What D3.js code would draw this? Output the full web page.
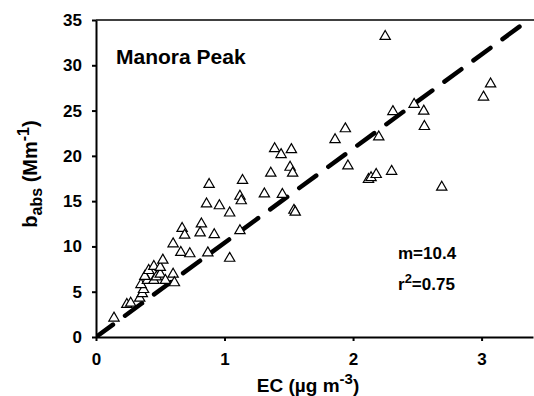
<!DOCTYPE html>
<html>
<head>
<meta charset="utf-8">
<script src="https://cdn.jsdelivr.net/npm/d3@7"></script>
<style>
  body { margin: 0; background: #fff; }
  svg { font-family: "Liberation Sans", Arial, sans-serif; font-weight: bold; }
</style>
</head>
<body>
<svg id="chart" width="534" height="396"></svg>
<script>
// EC (ug m-3) and b_abs (Mm-1)
const ecValues = [
  0.14, 0.24, 0.27, 0.34, 0.36, 0.37, 0.35, 0.40, 0.38, 0.41,
  0.45, 0.45, 0.47, 0.50, 0.50, 0.52, 0.54, 0.60, 0.61, 0.60,
  0.66, 0.73, 0.87, 0.67, 0.69, 0.82, 0.81, 0.92, 0.88, 0.86,
  0.96, 1.04, 1.04, 1.12, 1.14, 1.12, 1.13, 1.31, 1.45, 1.54,
  1.55, 1.39, 1.44, 1.52, 1.36, 1.51, 1.53, 1.86, 1.94, 1.96,
  2.12, 2.14, 2.18, 2.20, 2.30, 2.25, 2.31, 2.475, 2.55, 2.555,
  2.69, 3.015, 3.07
];
const babsValues = [
  2.2, 3.7, 3.85, 4.4, 4.9, 5.35, 5.9, 6.35, 6.8, 7.45,
  7.9, 6.35, 6.75, 7.05, 7.8, 8.6, 6.35, 7.05, 6.1, 10.4,
  9.45, 9.3, 9.4, 12.1, 11.35, 12.6, 11.6, 11.4, 16.95, 14.8,
  14.6, 13.8, 8.8, 11.85, 17.4, 15.65, 15.15, 15.9, 15.85, 14.1,
  13.9, 20.9, 20.25, 20.8, 18.2, 18.85, 18.2, 21.9, 23.1, 19.0,
  17.5, 17.7, 18.05, 22.2, 18.4, 33.3, 25.0, 25.8, 25.05, 23.35,
  16.65, 26.6, 28.05
];
const xTicks = [0, 1, 2, 3];
const yTicks = [0, 5, 10, 15, 20, 25, 30, 35];
const slope = 10.4;
const fitLabels = ["m=10.4", "0.75"];

const svg = d3.select("#chart");
const margin = { top: 20, left: 96 };
const width = 437, height = 317;

const x = d3.scaleLinear().domain([0, 3.4]).range([0, width]);
const y = d3.scaleLinear().domain([0, 35]).range([height, 0]);

const g = svg.append("g")
  .attr("transform", "translate(" + margin.left + "," + margin.top + ")");

g.append("clipPath").attr("id", "clip")
  .append("rect").attr("width", width + 2).attr("height", height);

// top frame line
g.append("line")
  .attr("x1", 0).attr("x2", width + 2)
  .attr("y1", 0).attr("y2", 0)
  .attr("stroke", "#000").attr("stroke-width", 1.5);

// regression line
const xEnd = 35 / slope;
g.append("line")
  .attr("clip-path", "url(#clip)")
  .attr("x1", x(0)).attr("y1", y(0))
  .attr("x2", x(xEnd)).attr("y2", y(slope * xEnd))
  .attr("stroke", "#000").attr("stroke-width", 4.5)
  .attr("stroke-linecap", "round")
  .attr("stroke-dasharray", "21,15");

// points
const pts = ecValues.map((d, i) => ({ ec: d, babs: babsValues[i] }));
g.selectAll(".pt")
  .data(pts)
  .enter().append("path")
  .attr("class", "pt")
  .attr("d", d3.symbol().type(d3.symbolTriangle).size(46))
  .attr("transform", d => "translate(" + x(d.ec) + "," + (y(d.babs) + 1) + ")")
  .attr("fill", "#fff").attr("stroke", "#000").attr("stroke-width", 1.2);

// axes
const xAxis = g.append("g")
  .attr("transform", "translate(0," + height + ")")
  .call(d3.axisBottom(x).tickValues(xTicks).tickSize(4).tickSizeOuter(0).tickPadding(12).tickFormat(d3.format("d")));
const yAxis = g.append("g")
  .call(d3.axisLeft(y).tickValues(yTicks).tickSize(4).tickSizeOuter(0).tickPadding(10).tickFormat(d3.format("d")));

[xAxis, yAxis].forEach(a => {
  a.select(".domain").attr("stroke-width", 2);
  a.selectAll(".tick line").attr("stroke-width", 2);
  a.selectAll("text")
    .attr("font-family", "Liberation Sans, Arial, sans-serif")
    .attr("font-weight", "bold")
    .attr("font-size", 17)
    .attr("fill", "#000");
});

// site label
svg.append("text")
  .attr("x", 116).attr("y", 64)
  .attr("font-size", 21)
  .text("Manora Peak");

// fit annotation
svg.append("text")
  .attr("x", 398).attr("y", 259)
  .attr("font-size", 17)
  .text(fitLabels[0]);
const r2 = svg.append("text")
  .attr("x", 398).attr("y", 290)
  .attr("font-size", 17);
r2.append("tspan").text("r");
r2.append("tspan").attr("dy", -7).attr("font-size", 13).text("2");
r2.append("tspan").attr("dy", 7).text("=" + fitLabels[1]);

// x title
const xt = svg.append("text")
  .attr("x", 308).attr("y", 392)
  .attr("text-anchor", "middle")
  .attr("font-size", 19);
xt.append("tspan").text("EC (\u00b5g m");
xt.append("tspan").attr("dy", -8).attr("font-size", 15).text("-3");
xt.append("tspan").attr("dy", 8).text(")");

// y title
const yt = svg.append("text")
  .attr("transform", "translate(37,174) rotate(-90)")
  .attr("text-anchor", "middle")
  .attr("font-size", 20);
yt.append("tspan").text("b");
yt.append("tspan").attr("dy", 5).attr("font-size", 16).text("abs");
yt.append("tspan").attr("dy", -5).text(" (Mm");
yt.append("tspan").attr("dy", -8).attr("font-size", 16).text("-1");
yt.append("tspan").attr("dy", 8).text(")");
</script>
</body>
</html>
